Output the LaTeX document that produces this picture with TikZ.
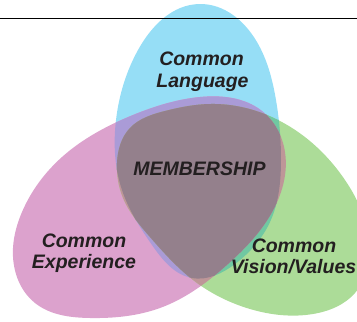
\documentclass[tikz,border=0pt]{standalone}
\usepackage{fontspec}
\setmainfont{Liberation Sans}
\usetikzlibrary{hobby}
\definecolor{cblue}{RGB}{150,222,246}
\definecolor{cpink}{RGB}{220,162,205}
\definecolor{cgreen}{RGB}{172,220,152}
\definecolor{cbp}{RGB}{170,155,215}
\definecolor{cbg}{RGB}{112,200,162}
\definecolor{cpg}{RGB}{190,150,152}
\definecolor{cgray}{RGB}{148,128,140}
\definecolor{ctext}{RGB}{35,31,32}
\def\blueshape{plot[closed hobby] coordinates {(200,4) (257,42) (276,100) (281,160) (270,222) (235,264) (192,278) (152,245) (122,190) (116,120) (138,50)}}
\def\pinkshape{plot[closed hobby] coordinates {(13,248) (35,303) (90,318) (160,308) (228,264) (271,214) (285,152) (262,111) (200,97) (133,115) (62,157) (22,212)}}
\def\greenshape{plot[closed hobby] coordinates {(117,163) (130,128) (165,111) (210,104) (280,121) (345,180) (369,240) (355,293) (313,314) (250,309) (197,283) (150,237) (123,198)}}
\tikzset{lbl/.style={font=\fontsize{19.5}{22}\selectfont\bfseries\itshape, text=ctext, inner sep=0pt, anchor=base}}
\begin{document}
\begin{tikzpicture}[x=1pt,y=-1pt]
\useasboundingbox (0,0) rectangle (357,322);
\clip (0,0) rectangle (357,322);
\fill[cblue] \blueshape;
\fill[cpink] \pinkshape;
\fill[cgreen] \greenshape;
\begin{scope}\clip \blueshape; \fill[cbp] \pinkshape;\end{scope}
\begin{scope}\clip \blueshape; \fill[cbg] \greenshape;\end{scope}
\begin{scope}\clip \pinkshape; \fill[cpg] \greenshape;\end{scope}
\begin{scope}\clip \blueshape; \clip \pinkshape; \fill[cgray] \greenshape;\end{scope}
\coordinate (hl) at (0,18);
\coordinate (hr) at (357,18);
\draw[line width=0.9pt] (hl) -- (hr);
\node[lbl] (cl1) at (201.5,65) {Common};
\node[lbl] (cl2) at (202.5,87) {Language};
\node[lbl] (mem) at (199.5,175) {MEMBERSHIP};
\node[lbl] (ce1) at (84,247) {Common};
\node[lbl] (ce2) at (84,268) {Experience};
\node[lbl] (cv1) at (294,252) {Common};
\node[lbl] (cv2) at (293.5,273) {Vision/Values};
\end{tikzpicture}
\end{document}
